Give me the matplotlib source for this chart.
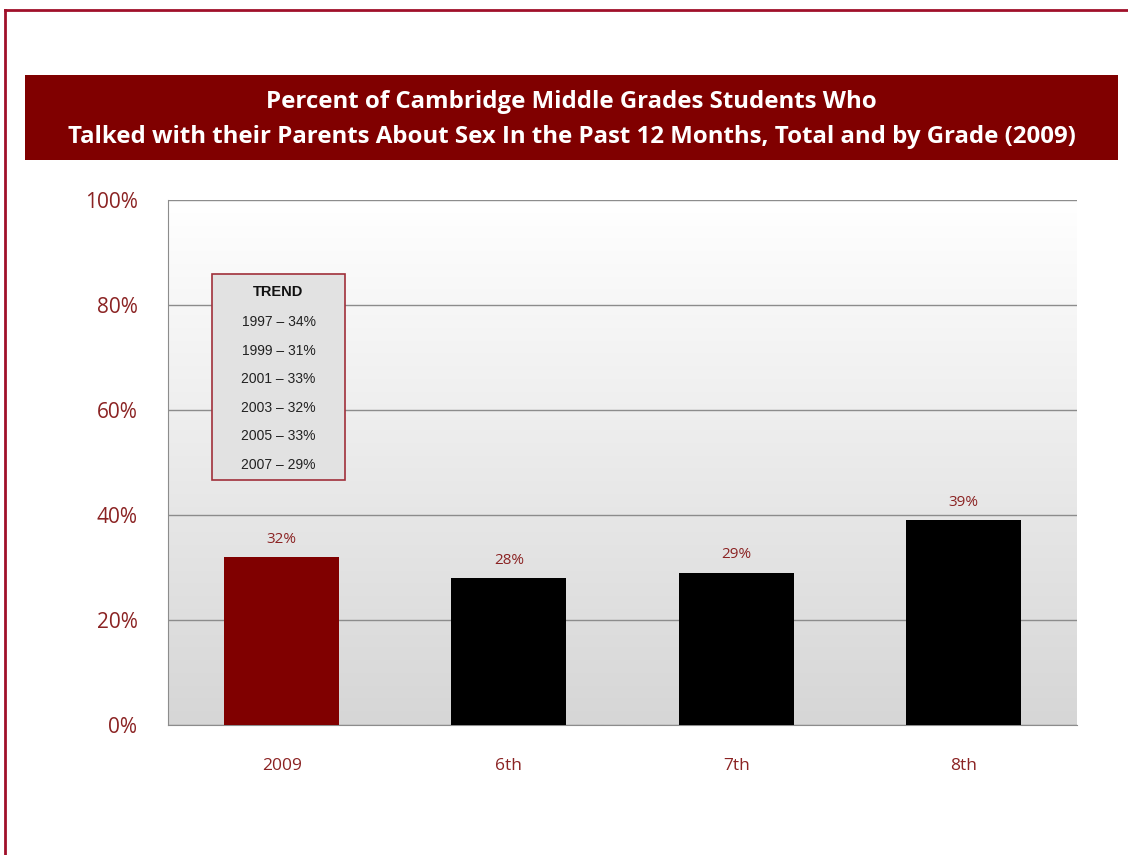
import numpy as np
import matplotlib.pyplot as plt
from matplotlib.patches import Rectangle

categories = ['2009', '6th', '7th', '8th']
values = [32, 28, 29, 39]
bar_colors = ['#800000', '#000000', '#000000', '#000000']

trend_years = ['1997', '1999', '2001', '2003', '2005', '2007']
trend_values = [34, 31, 33, 32, 33, 29]

title_lines = ['Percent of Cambridge Middle Grades Students Who',
               'Talked with their Parents About Sex In the Past 12 Months, Total and by Grade (2009)']

dark_red = '#800000'
label_red = '#8b2323'

fig = plt.figure(figsize=(11.28, 8.55), dpi=100)
fig.patch.set_facecolor('white')

# outer frame line (top and left)
fig.add_artist(plt.Line2D([5 / 1128, 1], [1 - 10 / 855, 1 - 10 / 855],
                          color='#a0102a', lw=2, transform=fig.transFigure))
fig.add_artist(plt.Line2D([5 / 1128, 5 / 1128], [0, 1 - 10 / 855],
                          color='#a0102a', lw=2, transform=fig.transFigure))

# title banner
fig.add_artist(Rectangle((25 / 1128, 1 - 160 / 855), 1093 / 1128, 85 / 855,
                         transform=fig.transFigure, facecolor=dark_red,
                         edgecolor='none'))
fig.text(571 / 1128, 1 - 102 / 855, title_lines[0], color='white',
         fontsize=17.3, fontweight='bold', family='Open Sans',
         ha='center', va='center')
fig.text(572 / 1128, 1 - 137 / 855, title_lines[1], color='white',
         fontsize=17.3, fontweight='bold', family='Open Sans',
         ha='center', va='center')

ax = fig.add_axes([168 / 1128, 1 - 725 / 855, 909 / 1128, 525 / 855])

# soft white-to-gray gradient behind the bars
grad = np.linspace(0, 1, 256).reshape(-1, 1)
ax.imshow(grad, cmap=plt.matplotlib.colors.LinearSegmentedColormap.from_list(
    'bg', ['#ffffff', '#d6d6d6']), aspect='auto', extent=[0, 1, 0, 1],
    transform=ax.transAxes, zorder=0)

x = np.arange(len(categories))
ax.bar(x, values, width=0.505, color=bar_colors, zorder=3)
for xi, v in zip(x, values):
    ax.text(xi, v + 2, f'{v}%', ha='center', va='bottom', color=label_red,
            fontsize=11, family='Open Sans')

ax.set_xlim(-0.5, len(categories) - 0.5)
ax.set_ylim(0, 100)
ax.set_yticks(range(0, 101, 20))
ax.set_yticklabels([f'{t}%' for t in range(0, 101, 20)])
ax.set_xticks(x)
ax.set_xticklabels(categories)
ax.tick_params(axis='y', length=0, pad=22, labelsize=15, labelcolor=label_red)
ax.tick_params(axis='x', length=0, pad=24, labelsize=12.5, labelcolor=label_red)
for lbl in ax.get_xticklabels() + ax.get_yticklabels():
    lbl.set_family('Open Sans')

ax.grid(axis='y', color='#8c8c8c', lw=1, zorder=1)
ax.set_axisbelow(True)
for s in ['top', 'right']:
    ax.spines[s].set_visible(False)
ax.spines['left'].set_color('#8c8c8c')
ax.spines['bottom'].set_color('#8c8c8c')

# trend box
box_l, box_t, box_w, box_h = 212, 274, 133, 206
fig.add_artist(Rectangle((box_l / 1128, 1 - (box_t + box_h) / 855),
                         box_w / 1128, box_h / 855, transform=fig.transFigure,
                         facecolor='#e2e2e2', edgecolor='#a0303a', lw=1.2,
                         zorder=5))
cx = (box_l + box_w / 2) / 1128
fig.text(cx, 1 - 292 / 855, 'TREND', ha='center', va='center', fontsize=10.5,
         fontweight='bold', family='Liberation Sans', color='#111111', zorder=6)
for i, (yr, tv) in enumerate(zip(trend_years, trend_values)):
    fig.text(cx, 1 - (322 + i * 28.6) / 855, f'{yr} \u2013 {tv}%', ha='center',
             va='center', fontsize=10, family='Liberation Sans',
             color='#222222', zorder=6)

fig.savefig('out.png', dpi=100)
